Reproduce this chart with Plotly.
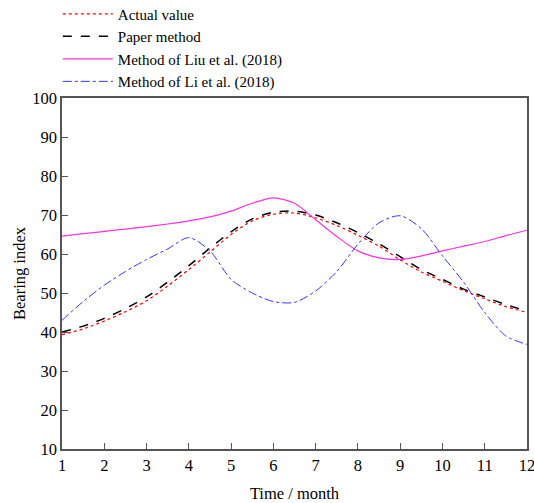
import plotly.graph_objects as go

months = [1, 1.5, 2, 2.5, 3, 3.5, 4, 4.5, 5, 5.5, 6, 6.5, 7, 7.5, 8, 8.5, 9, 9.5, 10, 10.5, 11, 11.5, 12]
actual = [39.3, 40.8, 42.8, 45.2, 48.0, 51.8, 56.0, 60.5, 65.0, 68.5, 70.2, 70.5, 69.3, 67.3, 64.8, 62.0, 58.5, 55.4, 53.0, 50.6, 48.5, 46.5, 45.0]
paper = [40.0, 41.5, 43.5, 46.0, 49.0, 52.8, 57.0, 61.5, 65.7, 69.0, 70.7, 71.0, 70.0, 68.0, 65.5, 62.6, 59.3, 56.0, 53.5, 51.0, 49.0, 47.0, 45.4]
liu = [64.6, 65.2, 65.8, 66.4, 67.0, 67.7, 68.5, 69.5, 71.0, 73.0, 74.4, 73.0, 68.8, 64.5, 60.8, 59.0, 58.6, 59.5, 60.8, 62.0, 63.2, 64.7, 66.1]
li = [43.0, 47.8, 52.0, 55.5, 58.6, 61.3, 64.2, 60.8, 53.5, 50.0, 47.8, 47.6, 50.5, 55.5, 62.5, 68.0, 69.8, 66.5, 59.5, 52.8, 45.0, 39.0, 36.8]

x_ticks = list(range(1, 13))
y_ticks = list(range(10, 101, 10))

FONT = "Liberation Serif"

fig = go.Figure()
fig.add_trace(go.Scatter(x=months, y=actual, name="Actual value", mode="lines",
                         line=dict(color="#FF0000", width=1.2, dash="dot", shape="spline", smoothing=0.8)))
fig.add_trace(go.Scatter(x=months, y=paper, name="Paper method", mode="lines",
                         line=dict(color="#000000", width=1.5, dash="dash", shape="spline", smoothing=0.8)))
fig.add_trace(go.Scatter(x=months, y=liu, name="Method of Liu et al. (2018)", mode="lines",
                         line=dict(color="#FF33DD", width=1.2, shape="spline", smoothing=0.8)))
fig.add_trace(go.Scatter(x=months, y=li, name="Method of Li et al. (2018)", mode="lines",
                         line=dict(color="#3333FF", width=1, dash="dashdot", shape="spline", smoothing=0.8)))

fig.update_layout(
    width=534, height=503,
    margin=dict(l=62, r=7, t=98, b=54, autoexpand=False),
    paper_bgcolor="white", plot_bgcolor="white",
    font=dict(family=FONT, size=16, color="black"),
    showlegend=True,
    legend=dict(x=-0.009, y=1.286, xanchor="left", yanchor="top",
                font=dict(family=FONT, size=15, color="black"),
                bgcolor="rgba(0,0,0,0)", tracegroupgap=0, itemwidth=50),
)
fig.update_xaxes(range=[1, 12], tickvals=x_ticks, ticks="inside", ticklen=6,
                 showgrid=False, zeroline=False, showline=True, mirror=True,
                 linecolor="#555555", linewidth=1.5, tickcolor="#555555",
                 tickfont=dict(family=FONT, size=16.5), ticklabeloverflow="allow",
                 title=dict(text="Time / month", font=dict(family=FONT, size=16.5), standoff=16))
fig.update_yaxes(range=[10, 100], tickvals=y_ticks, ticks="inside", ticklen=6,
                 showgrid=False, zeroline=False, showline=True, mirror=True,
                 linecolor="#555555", linewidth=1.5, tickcolor="#555555",
                 tickfont=dict(family=FONT, size=16.5),
                 title=dict(text="Bearing index", font=dict(family=FONT, size=16.5), standoff=2))

fig.write_html("out.html", config={"displayModeBar": False},
               post_script="document.body.style.margin='0';document.body.style.overflow='hidden';")
